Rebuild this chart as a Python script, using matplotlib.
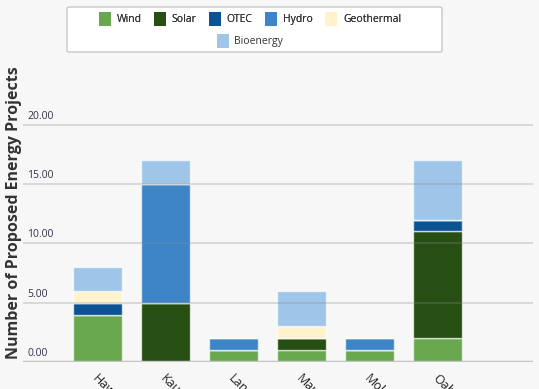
import matplotlib
matplotlib.use("Agg")
import matplotlib.pyplot as plt
from matplotlib.patches import Patch, FancyBboxPatch
import numpy as np

islands = ["Hawaii", "Kauai", "Lanai", "Maui", "Molokai", "Oahu"]
sources = ["Wind", "Solar", "OTEC", "Hydro", "Geothermal", "Bioenergy"]
colors = ["#6aa84f", "#274e13", "#0b5394", "#3d85c6", "#fff2cc", "#9fc5e8"]

wind = [4, 0, 1, 1, 1, 2]
solar = [0, 5, 0, 1, 0, 9]
otec = [1, 0, 0, 0, 0, 1]
hydro = [0, 10, 1, 0, 1, 0]
geothermal = [1, 0, 0, 1, 0, 0]
bioenergy = [2, 2, 0, 3, 0, 5]

yticks = [0, 5, 10, 15, 20]

plt.rcParams['font.family'] = ['Open Sans', 'DejaVu Sans']
bg = "#f7f7f7"

fig = plt.figure(figsize=(5.39, 3.89), dpi=100, facecolor=bg)
ax = fig.add_axes([23 / 539, 1 - 362 / 389, 510 / 539, 273 / 389], facecolor=bg)

#stack the series one on top of the other
x = np.arange(len(islands))
bottom = np.zeros(len(islands))
series = [wind, solar, otec, hydro, geothermal, bioenergy]
for vals, c in zip(series, colors):
    vals = np.array(vals, dtype=float)
    ax.bar(x, vals, bottom=bottom, width=0.72, color=c,
           edgecolor=(1, 1, 1, 0.65), linewidth=1.0, zorder=2)
    bottom += vals

ax.set_xlim(-1.1, 6.4)
ax.set_ylim(0, 23)

# faint gridlines over the bars, labels sitting just above each line
for t in yticks[1:]:
    ax.axhline(t, color=(0.55, 0.55, 0.55, 0.3), linewidth=1.3, zorder=3)
ax.axhline(0, color="#c4c4c4", linewidth=2.5, zorder=4)
for t in yticks:
    ax.text(0.008, t + 0.25, f"{t:.2f}", transform=ax.get_yaxis_transform(),
            ha="left", va="bottom", fontsize=7.5, color="#333348")

for s in ax.spines.values():
    s.set_visible(False)
ax.set_xticks([])
ax.set_yticks([])

for i, name in enumerate(islands):
    ax.text(i + 0.02, -0.8, name, rotation=-45, rotation_mode="anchor",
            ha="left", va="top", fontsize=9, color="#222222", clip_on=False)

fig.text(14 / 539, 1 - 213 / 389, "Number of Proposed Energy Projects",
         rotation=90, ha="center", va="center", fontsize=11.5,
         fontweight="bold", color="#333333")

# legend: five entries on the first row, bioenergy centered below
frame = FancyBboxPatch((67 / 539, 1 - 52 / 389), 375 / 539, 45 / 389,
                       boxstyle="round,pad=0,rounding_size=0.004",
                       transform=fig.transFigure, facecolor="white",
                       edgecolor="#c8c8c8", linewidth=1.0)
fig.add_artist(frame)

handles = [Patch(facecolor=c, edgecolor="none") for c in colors]
leg_kw = dict(frameon=False, fontsize=7.5, handlelength=1.15, handleheight=1.8,
              handletextpad=0.55, labelcolor="#333333")
leg1 = fig.legend(handles[:5], sources[:5], ncol=5, loc="center",
                  bbox_to_anchor=(250 / 539, 1 - 19 / 389),
                  columnspacing=1.2, **leg_kw)
leg2 = fig.legend(handles[5:], sources[5:], loc="center",
                  bbox_to_anchor=(250 / 539, 1 - 41 / 389), **leg_kw)
fig.add_artist(leg1)

fig.savefig("out.png", dpi=100, facecolor=bg)
